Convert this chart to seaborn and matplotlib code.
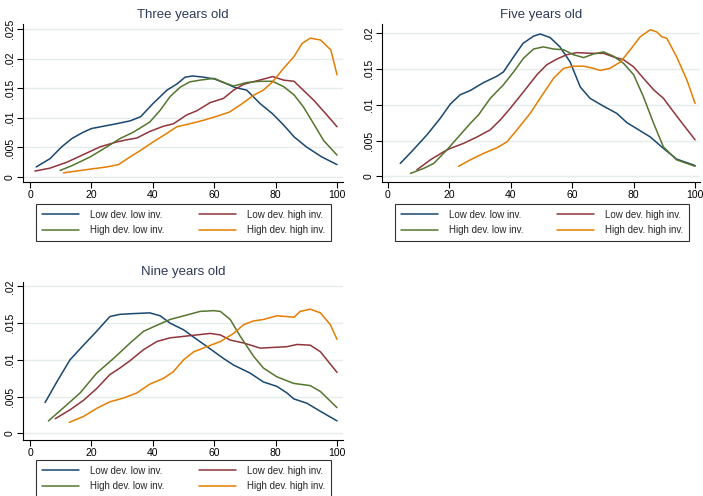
import matplotlib
matplotlib.use("Agg")
import matplotlib.pyplot as plt
import seaborn as sns
import pandas as pd
from matplotlib.lines import Line2D
from matplotlib.ticker import FixedLocator, FuncFormatter

# ---- series labels and colours -------------------------------------------
groups = ["Low dev. low inv.", "Low dev. high inv.",
          "High dev. low inv.", "High dev. high inv."]
colors = ["#1a476f", "#90353b", "#55752f", "#e37e00"]
panel_titles = ["Three years old", "Five years old", "Nine years old"]

x_ticks = [0, 20, 40, 60, 80, 100]
y_ticks_three = [0, .005, .01, .015, .02, .025]
y_ticks_five = [0, .005, .01, .015, .02]
y_ticks_nine = [0, .005, .01, .015, .02]

# ---- Three years old -------------------------------------------------------
three_ll_x = [2, 6.5, 10.3, 13.6, 17.4, 20, 24, 28, 32.6, 36, 40, 44.6, 48, 50.5, 53,
              56.5, 60, 64, 66.5, 70.6, 75, 79, 82.6, 86, 90, 95, 100]
three_ll_y = [.0017, .0031, .0051, .0065, .0076, .0082, .0086, .0090, .0095, .0102,
              .0124, .0147, .0158, .0169, .0171, .0169, .0166, .0158, .0152, .0147,
              .0124, .0107, .0088, .0068, .0051, .0034, .0021]
three_lh_x = [1.6, 6.5, 12, 17.4, 22.8, 28, 31.5, 34.8, 39, 43.5, 46.7, 51, 54.3, 58.7,
              63, 66.3, 69.6, 74, 77, 79, 82.6, 86, 89, 92.4, 96.7, 100]
three_lh_y = [.0010, .0015, .0025, .0038, .0051, .0059, .0063, .0066, .0077, .0086,
              .0090, .0105, .0112, .0126, .0133, .0147, .0157, .0163, .0167, .0170,
              .0164, .0162, .0147, .0130, .0105, .0085]
three_hl_x = [9.8, 14, 19.6, 25, 29.3, 33.7, 39, 42.4, 45.6, 48.9, 52, 55.4, 60, 63,
              66.3, 70.6, 75, 79, 82.6, 86, 89, 92.4, 95.6, 100]
three_hl_y = [.0011, .0020, .0034, .0051, .0065, .0076, .0093, .0113, .0136, .0152,
              .0161, .0164, .0167, .0160, .0154, .0160, .0162, .0162, .0153, .0139,
              .0119, .0090, .0062, .0037]
three_hh_x = [10.9, 15, 20.6, 25, 28.8, 32.6, 36, 40, 44.6, 47.8, 52, 56.5, 61, 65,
              68.5, 73, 76, 79, 82.6, 86, 88.6, 91.3, 94.6, 98, 100]
three_hh_y = [.0007, .0010, .0014, .0017, .0021, .0034, .0045, .0059, .0074, .0085,
              .0090, .0096, .0103, .0110, .0122, .0139, .0147, .0161, .0184, .0204,
              .0226, .0235, .0232, .0215, .0173]

# ---- Five years old --------------------------------------------------------
five_ll_x = [4, 7.8, 12.7, 17, 20.3, 23.5, 26.8, 31.1, 35.5, 37.6, 40.9, 44, 47.4, 49.6,
             52.8, 56, 59.3, 62.6, 65.8, 70.2, 74.5, 77.8, 82, 85.4, 89.7, 94, 100]
five_ll_y = [.0018, .0035, .0058, .0081, .0101, .0114, .0120, .0131, .0140, .0146,
             .0167, .0186, .0196, .0199, .0194, .0181, .0160, .0125, .0109, .0098,
             .0088, .0075, .0064, .0055, .0039, .0024, .0015]
five_lh_x = [9.4, 13.8, 18, 20.3, 24.6, 29, 33.3, 36.6, 39.8, 44.1, 48.5, 51.7, 55,
             58.2, 61.5, 65.8, 70.2, 73.4, 76.7, 80, 83.2, 86.5, 89.7, 93, 96.2, 100]
five_lh_y = [.0009, .0023, .0034, .0039, .0046, .0055, .0065, .0079, .0095, .0118,
             .0142, .0156, .0164, .0170, .0173, .0172, .0172, .0167, .0163, .0153,
             .0137, .0121, .0109, .0090, .0072, .0051]
five_hl_x = [7.3, 11.6, 14.9, 19.2, 23.5, 26.8, 29.5, 33.3, 37.6, 40.9, 44.1, 47.4,
             50.6, 53.9, 57.2, 60.4, 63.7, 66.9, 70.2, 73.4, 76.7, 80, 83.2, 86.5,
             89.7, 94, 100]
five_hl_y = [.0004, .0011, .0018, .0037, .0058, .0074, .0086, .0109, .0128, .0146,
             .0165, .0178, .0181, .0178, .0177, .0170, .0166, .0171, .0174, .0168,
             .0158, .0142, .0111, .0074, .0041, .0023, .0014]
five_hh_x = [23, 26.8, 31.1, 35.5, 38.7, 42, 46.3, 50.6, 53.9, 57.2, 60.4, 63.7, 66.9,
             69.1, 72.3, 75.7, 78.9, 82.1, 85.4, 87.5, 89.2, 90.8, 94, 97.3, 100]
five_hh_y = [.0014, .0023, .0032, .0040, .0048, .0065, .0088, .0116, .0137, .0151,
             .0154, .0154, .0151, .0148, .0151, .0160, .0177, .0195, .0205, .0202,
             .0195, .0193, .0167, .0135, .0102]

# ---- Nine years old --------------------------------------------------------
nine_ll_x = [4.9, 8.7, 13, 17.4, 21.7, 26, 29.3, 33.7, 39, 42.4, 45.6, 50, 54.3, 58.7,
             63, 66.3, 71.7, 76, 80.4, 83.7, 85.9, 90.2, 94.6, 100]
nine_ll_y = [.0042, .0070, .0100, .0120, .0139, .0159, .0162, .0163, .0164, .0160,
             .0150, .0141, .0128, .0115, .0102, .0093, .0082, .0070, .0064, .0055,
             .0047, .0041, .0030, .0017]
nine_lh_x = [8.2, 13, 17.4, 21.7, 26, 29.3, 32.6, 37, 41.3, 45.6, 50, 54.3, 58.7, 62,
             65.2, 69.6, 75, 79.3, 83.7, 87, 91.3, 94.6, 100]
nine_lh_y = [.0020, .0032, .0045, .0061, .0080, .0089, .0099, .0114, .0125, .0130,
             .0132, .0134, .0136, .0134, .0127, .0123, .0116, .0117, .0118, .0121,
             .0120, .0111, .0083]
nine_hl_x = [6, 12, 16.3, 21.7, 27.2, 32.6, 37, 40.2, 45.6, 51, 55.4, 59.8, 62, 65.2,
             68.5, 72.8, 76, 80.4, 85.9, 91.3, 94.6, 100]
nine_hl_y = [.0017, .0039, .0055, .0082, .0102, .0123, .0139, .0145, .0155, .0161,
             .0166, .0167, .0166, .0155, .0132, .0105, .0089, .0077, .0068, .0065,
             .0057, .0035]
nine_hh_x = [12.8, 17.4, 21.7, 26, 30.4, 34.8, 39, 43.5, 46.7, 50, 53.3, 57.6, 62, 66.3,
             69.6, 72.8, 76, 80.4, 83.7, 86, 88, 91.3, 94.6, 97.8, 100]
nine_hh_y = [.0015, .0023, .0034, .0043, .0048, .0055, .0067, .0075, .0084, .0100,
             .0111, .0118, .0125, .0136, .0148, .0153, .0155, .0160, .0159, .0158,
             .0166, .0169, .0164, .0148, .0128]

panels = [
    [(three_ll_x, three_ll_y), (three_lh_x, three_lh_y),
     (three_hl_x, three_hl_y), (three_hh_x, three_hh_y)],
    [(five_ll_x, five_ll_y), (five_lh_x, five_lh_y),
     (five_hl_x, five_hl_y), (five_hh_x, five_hh_y)],
    [(nine_ll_x, nine_ll_y), (nine_lh_x, nine_lh_y),
     (nine_hl_x, nine_hl_y), (nine_hh_x, nine_hh_y)],
]


def long_frame(series):
    parts = []
    for name, (xs, ys) in zip(groups, series):
        parts.append(pd.DataFrame({"x": xs, "y": ys, "group": name}))
    return pd.concat(parts, ignore_index=True)


def fmt_tick(v, _pos):
    if v == 0:
        return "0"
    return ("%g" % v).lstrip("0")


sns.set_style("white")
plt.rcParams["font.family"] = ["Liberation Sans", "DejaVu Sans"]

W, H = 703, 496
fig = plt.figure(figsize=(W / 100, H / 100), dpi=100)
fig.patch.set_facecolor("white")


def px_axes(left, top, right, bottom):
    return fig.add_axes([left / W, 1 - bottom / H, (right - left) / W, (bottom - top) / H])


layout = [
    # axes box, xlim, ylim, yticks, title y, legend centre x, legend top
    ((23, 24, 343, 182), (-2.3, 101.95), (-0.00085, 0.0259), y_ticks_three, 15, 183.5, 204),
    ((382, 24, 700, 182), (-1.95, 101.6), (-0.0008, 0.0213), y_ticks_five, 15, 542, 204),
    ((23, 282, 343, 440), (-2.3, 101.95), (-0.0009, 0.0206), y_ticks_nine, 272, 183.5, 460),
]

palette = dict(zip(groups, colors))
legend_order = [0, 2, 1, 3]

for series, title, (box, xlim, ylim, yt, ty, lcx, ltop) in zip(panels, panel_titles, layout):
    ax = px_axes(*box)
    df = long_frame(series)
    sns.lineplot(data=df, x="x", y="y", hue="group", hue_order=groups,
                 palette=palette, estimator=None, sort=True, lw=1.1,
                 legend=False, ax=ax)
    ax.set_xlim(*xlim)
    ax.set_ylim(*ylim)
    ax.xaxis.set_major_locator(FixedLocator(x_ticks))
    ax.yaxis.set_major_locator(FixedLocator(yt))
    ax.yaxis.set_major_formatter(FuncFormatter(fmt_tick))
    ax.set_xlabel("")
    ax.set_ylabel("")
    ax.yaxis.grid(True, color="#e4ecec", lw=1.0)
    ax.xaxis.grid(False)
    ax.set_axisbelow(True)
    for s in ("top", "right"):
        ax.spines[s].set_visible(False)
    for s in ("left", "bottom"):
        ax.spines[s].set_color("black")
        ax.spines[s].set_linewidth(0.8)
    ax.tick_params(axis="both", direction="out", length=4, width=0.8,
                   labelsize=7.5, pad=2, colors="black", left=True, bottom=True)
    plt.setp(ax.get_yticklabels(), rotation=90, va="center")

    cx = (box[0] + box[2]) / 2
    fig.text(cx / W, 1 - ty / H, title, ha="center", va="center",
             fontsize=9.5, color="#2c3b58")

    handles = [Line2D([], [], color=colors[i], lw=1.1) for i in legend_order]
    labels = [groups[i] for i in legend_order]
    leg = ax.legend(handles, labels, loc="upper center",
                    bbox_to_anchor=(lcx / W, 1 - ltop / H),
                    bbox_transform=fig.transFigure, ncol=2, fontsize=7,
                    frameon=True, fancybox=False, edgecolor="black",
                    handlelength=3.8, handletextpad=1.15, columnspacing=3.5,
                    labelspacing=0.55, borderpad=0.6, borderaxespad=0)
    leg.get_frame().set_linewidth(0.8)

fig.savefig("out.png", dpi=100, facecolor="white")
